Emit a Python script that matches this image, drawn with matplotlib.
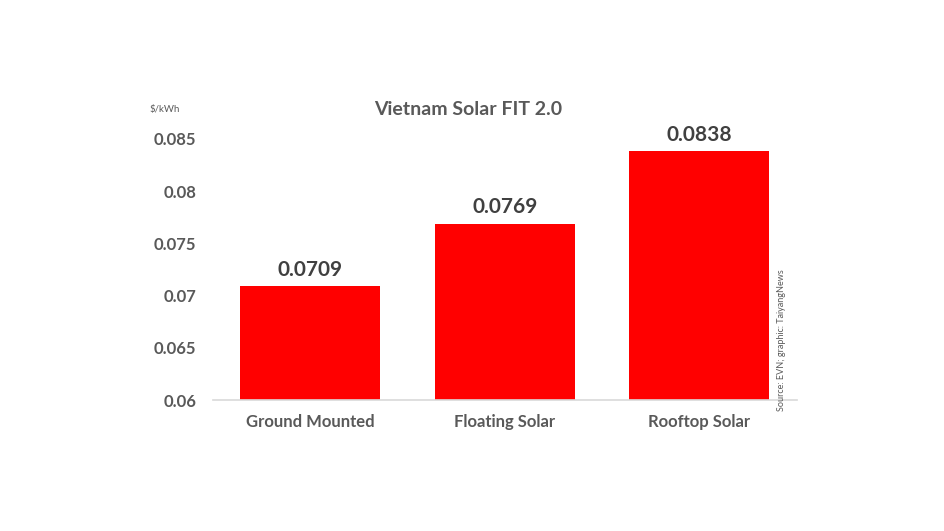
import matplotlib
matplotlib.use("Agg")
import matplotlib.pyplot as plt

categories = ["Ground Mounted", "Floating Solar", "Rooftop Solar"]
fit_values = [0.0709, 0.0769, 0.0838]
y_ticks = [0.06, 0.065, 0.07, 0.075, 0.08, 0.085]
y_tick_labels = ["0.06", "0.065", "0.07", "0.075", "0.08", "0.085"]

GREY = "#595959"
plt.rcParams["font.family"] = ["Lato", "DejaVu Sans"]

fig = plt.figure(figsize=(9.44, 5.31), dpi=100)
ax = fig.add_axes([0.2256, 0.2467, 0.6184, 0.5113])

x = range(len(categories))
ax.bar(x, fit_values, width=0.72, color="#FF0000", zorder=2)
for xi, v in zip(x, fit_values):
    ax.text(xi, v + 0.0006, f"{v:.4f}", ha="center", va="bottom",
            fontsize=15, fontweight="bold", color="#404040")

ax.set_xlim(-0.5, 2.5)
ax.set_ylim(0.06, 0.086)
ax.set_yticks(y_ticks)
ax.set_yticklabels(y_tick_labels)
ax.set_xticks(list(x))
ax.set_xticklabels(categories)
for lab in ax.get_xticklabels() + ax.get_yticklabels():
    lab.set_fontweight("bold")
    lab.set_color(GREY)
    lab.set_fontsize(12)
ax.tick_params(length=0)
ax.tick_params(axis="x", pad=10)
ax.tick_params(axis="y", pad=12)
for s in ["top", "right", "left"]:
    ax.spines[s].set_visible(False)
ax.spines["bottom"].set_color("#D9D9D9")
ax.spines["bottom"].set_linewidth(1.2)

fig.text(468 / 944, 1 - 110 / 531, "Vietnam Solar FIT 2.0", ha="center", va="center",
         fontsize=14, fontweight="bold", color=GREY)
fig.text(165 / 944, 1 - 110 / 531, "$/kWh", ha="center", va="center",
         fontsize=7, color=GREY)
fig.text(781 / 944, 1 - 340 / 531, "Source: EVN; graphic: TaiyangNews", rotation=90,
         ha="center", va="center", fontsize=6.5, color=GREY)

fig.savefig("out.png", dpi=100, facecolor="white")
